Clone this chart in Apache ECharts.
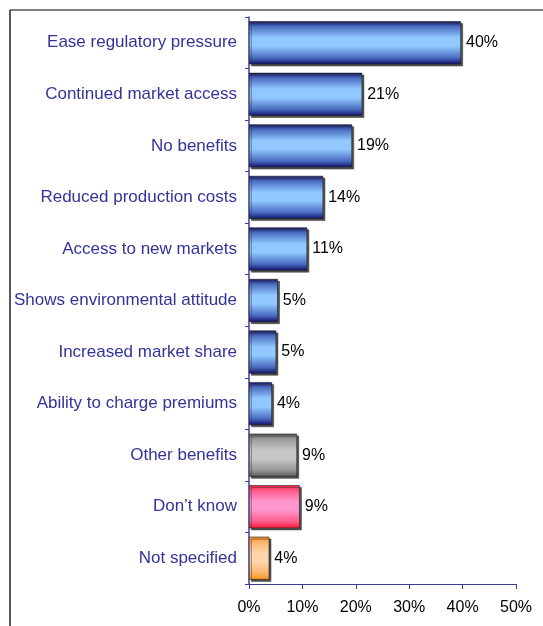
<!DOCTYPE html>
<html>
<head>
<meta charset="utf-8">
<script src="https://cdn.jsdelivr.net/npm/echarts@6/dist/echarts.min.js"></script>
<style>
    html, body {margin: 0; padding: 0; background: #fff;}
    #chart {width: 543px; height: 626px;}
</style>
</head>
<body>
<div id="chart"></div>
<script>
// categories, top to bottom
const categories = [
    'Ease regulatory pressure',
    'Continued market access',
    'No benefits',
    'Reduced production costs',
    'Access to new markets',
    'Shows environmental attitude',
    'Increased market share',
    'Ability to charge premiums',
    'Other benefits',
    'Don\u2019t know',
    'Not specified'
];
// bar lengths (percent)
const values = [39.7, 21.2, 19.3, 13.9, 10.9, 5.4, 5.1, 4.3, 9.0, 9.5, 3.8];
// printed labels
const valueLabels = ['40%', '21%', '19%', '14%', '11%', '5%', '5%', '4%', '9%', '9%', '4%'];
// colour group of each bar
const colourGroups = ['blue', 'blue', 'blue', 'blue', 'blue', 'blue', 'blue', 'blue', 'gray', 'pink', 'orange'];

const gradients = {
    blue: ['#10106a', '#4a6cc0', '#90c8ff'],
    gray: ['#5a5a5a', '#989898', '#c6c6c6'],
    pink: ['#ff1838', '#ff5a8a', '#ff96cc'],
    orange: ['#ff8c1a', '#ffb468', '#ffd6ac'],
};

const makeGradient = name => {
    const [edge, mid, centre] = gradients[name];
    return new echarts.graphic.LinearGradient(0, 0, 0, 1, [
        {offset: 0, color: edge},
        {offset: 0.12, color: mid},
        {offset: 0.38, color: centre},
        {offset: 0.58, color: centre},
        {offset: 0.85, color: mid},
        {offset: 1, color: edge},
    ]);
};

const axisColor = '#3c3ca0';
const font = 'Arial, "Liberation Sans", sans-serif';

const chart = echarts.init(document.getElementById('chart'));
chart.setOption({
    animation: false,
    grid: {left: 249, right: 27, top: 17, bottom: 42},
    xAxis: {
        type: 'value',
        min: 0,
        max: 50,
        interval: 10,
        axisLine: {show: true, lineStyle: {color: axisColor, width: 1}},
        axisTick: {show: true, length: 5, lineStyle: {color: axisColor}},
        splitLine: {show: false},
        axisLabel: {
            formatter: '{value}%',
            color: '#000',
            fontSize: 16,
            fontFamily: font,
            margin: 16,
        },
    },
    yAxis: {
        type: 'category',
        inverse: true,
        data: categories,
        axisLine: {show: true, lineStyle: {color: axisColor, width: 1.5}},
        axisTick: {show: true, length: 4, lineStyle: {color: axisColor}},
        axisLabel: {
            color: '#333399',
            fontSize: 17,
            fontFamily: font,
            margin: 12,
        },
    },
    series: [{
        type: 'bar',
        barWidth: 43,
        data: values.map((v, i) => ({
            value: v,
            itemStyle: {color: makeGradient(colourGroups[i])},
        })),
        itemStyle: {
            borderColor: '#222',
            borderWidth: 0.6,
            shadowColor: 'rgba(60,60,60,0.9)',
            shadowOffsetX: 2,
            shadowOffsetY: 2,
            shadowBlur: 0,
        },
        label: {
            show: true,
            position: 'right',
            distance: 5,
            color: '#000',
            fontSize: 16,
            fontFamily: font,
            formatter: p => valueLabels[p.dataIndex],
        },
    }],
    graphic: [
        {type: 'line', silent: true, shape: {x1: 10, y1: 10, x2: 543, y2: 10}, style: {stroke: '#555', lineWidth: 1.5}},
        {type: 'line', silent: true, shape: {x1: 10, y1: 10, x2: 10, y2: 626}, style: {stroke: '#222', lineWidth: 1.5}},
    ],
});
</script>
</body>
</html>
